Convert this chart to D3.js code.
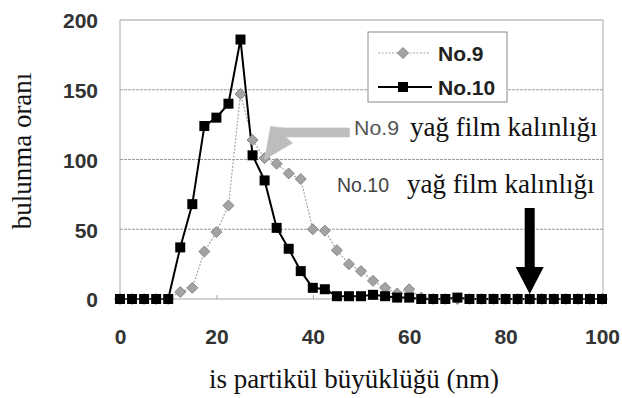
<!DOCTYPE html>
<html>
<head>
<meta charset="utf-8">
<script src="https://cdn.jsdelivr.net/npm/d3@7"></script>
<style>
  html, body { margin: 0; padding: 0; background: #fff; }
  svg { display: block; }
</style>
</head>
<body>
<svg id="chart" width="622" height="398"></svg>
<script>
// Particle size classes (nm), sampled every 2.5 nm
const sizes = d3.range(0, 100.01, 2.5);

// Occurrence rate per size class
const no9 = [0, 0, 0, 0, 0, 5, 8, 34, 48, 67, 147, 114, 101, 97, 90, 86, 50, 49, 35, 25,
             20, 13, 8, 4, 7, 1, 0, 0, 0, 0, 0, 0, 0, 0, 0, 0, 0, 0, 0, 0, 0];
const no10 = [0, 0, 0, 0, 0, 37, 68, 124, 130, 140, 186, 103, 85, 51, 36, 20, 8, 7, 2, 2,
              2, 3, 2, 1, 1, 0, 0, 0, 1, 0, 0, 0, 0, 0, 0, 0, 0, 0, 0, 0, 0];

const seriesNames = ["No.9", "No.10"];
// Oil film thickness (nm) marked for each sample
const filmThickness = [30, 85];
const filmLabel = "yağ film kalınlığı";

const xTicks = [0, 20, 40, 60, 80, 100];
const yTicks = [0, 50, 100, 150, 200];

const xTitle = "is partikül büyüklüğü (nm)";
const yTitle = "bulunma oranı";

const svg = d3.select("#chart");
const plotLeft = 120, plotRight = 602, plotTop = 20, plotBottom = 299;

const x = d3.scaleLinear().domain([0, 100]).range([plotLeft, plotRight]);
const y = d3.scaleLinear().domain([0, 200]).range([plotBottom, plotTop]);

const sans = "'Liberation Sans', Arial, sans-serif";
const serif = "'Liberation Serif', 'Times New Roman', serif";

// Horizontal gridlines
svg.append("g").selectAll("line")
  .data(yTicks.filter(d => d > 0))
  .join("line")
  .attr("x1", plotLeft).attr("x2", plotRight + 1)
  .attr("y1", d => y(d)).attr("y2", d => y(d))
  .attr("stroke", "#9a9a9a").attr("stroke-width", 1)
  .attr("stroke-dasharray", d => d === 200 ? null : "3,1");

// Plot frame: left axis, right border, bottom axis
svg.append("line").attr("x1", plotLeft).attr("x2", plotLeft).attr("y1", plotTop).attr("y2", plotBottom)
  .attr("stroke", "#a8a8a8");
svg.append("line").attr("x1", plotRight + 1).attr("x2", plotRight + 1).attr("y1", plotTop).attr("y2", plotBottom)
  .attr("stroke", "#a8a8a8");
svg.append("line").attr("x1", plotLeft).attr("x2", plotRight + 1).attr("y1", plotBottom).attr("y2", plotBottom)
  .attr("stroke", "#a8a8a8");

// Axes
const xAxis = d3.axisBottom(x).tickValues(xTicks).tickSizeInner(-4).tickSizeOuter(0).tickPadding(30);
const gx = svg.append("g").attr("transform", `translate(0,${plotBottom})`).call(xAxis);
gx.select(".domain").remove();
gx.selectAll(".tick line").attr("stroke", "#a8a8a8");
gx.selectAll("text").attr("font-family", sans).attr("font-weight", "bold")
  .attr("font-size", 21).attr("fill", "#333");

const yAxis = d3.axisLeft(y).tickValues(yTicks).tickSize(0).tickPadding(22);
const gy = svg.append("g").attr("transform", `translate(${plotLeft},0)`).call(yAxis);
gy.select(".domain").remove();
gy.selectAll("text").attr("font-family", sans).attr("font-weight", "bold")
  .attr("font-size", 21).attr("fill", "#333").attr("dy", "0.38em");

// Axis titles
svg.append("text")
  .attr("x", 354).attr("y", 388)
  .attr("text-anchor", "middle")
  .attr("font-family", serif).attr("font-size", 27).attr("fill", "#111")
  .text(xTitle);

svg.append("text")
  .attr("transform", "translate(31,151) rotate(-90)")
  .attr("text-anchor", "middle")
  .attr("font-family", serif).attr("font-size", 27).attr("fill", "#111")
  .text(yTitle);

// Series
const line = d3.line().x((d, i) => x(sizes[i])).y(d => y(d));

svg.append("path").datum(no9)
  .attr("d", line).attr("fill", "none")
  .attr("stroke", "#a6a6a6").attr("stroke-width", 1.2).attr("stroke-dasharray", "2,1.5");

svg.append("path").datum(no10)
  .attr("d", line).attr("fill", "none")
  .attr("stroke", "#000").attr("stroke-width", 2);

const diamond = "M0,-5.5L5.5,0L0,5.5L-5.5,0Z";

svg.append("g").selectAll("path")
  .data(no9)
  .join("path")
  .attr("d", diamond)
  .attr("transform", (d, i) => `translate(${x(sizes[i])},${y(d)})`)
  .attr("fill", "#a3a3a3").attr("stroke", "#868686").attr("stroke-width", 1);

svg.append("g").selectAll("rect")
  .data(no10)
  .join("rect")
  .attr("x", (d, i) => x(sizes[i]) - 5).attr("y", d => y(d) - 5)
  .attr("width", 10).attr("height", 10)
  .attr("fill", "#000");

// Legend
const lg = svg.append("g");
lg.append("rect").attr("x", 368).attr("y", 32).attr("width", 139).attr("height", 70)
  .attr("fill", "#fff").attr("stroke", "#8a8a8a").attr("stroke-width", 1);
const legendY = [53, 87];
lg.append("line").attr("x1", 378).attr("x2", 430).attr("y1", legendY[0]).attr("y2", legendY[0])
  .attr("stroke", "#a6a6a6").attr("stroke-width", 1.2).attr("stroke-dasharray", "2,1.5");
lg.append("path").attr("d", diamond).attr("transform", `translate(403,${legendY[0]})`)
  .attr("fill", "#a3a3a3").attr("stroke", "#868686");
lg.append("line").attr("x1", 378).attr("x2", 432).attr("y1", legendY[1]).attr("y2", legendY[1])
  .attr("stroke", "#000").attr("stroke-width", 2);
lg.append("rect").attr("x", 398).attr("y", legendY[1] - 5).attr("width", 10).attr("height", 10)
  .attr("fill", "#000");
lg.selectAll("text.lab").data(seriesNames).join("text")
  .attr("class", "lab")
  .attr("x", 438).attr("y", (d, i) => legendY[i] + 8)
  .attr("font-family", sans).attr("font-weight", "bold").attr("font-size", 21).attr("fill", "#222")
  .text(d => d);

// Film thickness markers
// No.9: light grey bent arrow pointing at the curve
const tx = x(filmThickness[0]), ty = y(100);
svg.append("path")
  .attr("d", d3.line()([
    [tx + 85, ty - 31.5], [tx + 20, ty - 31.5], [tx + 6, ty - 33], [tx, ty],
    [tx + 28, ty - 16.5], [tx + 21, ty - 22.5], [tx + 85, ty - 22.5]
  ]) + "Z")
  .attr("fill", "#bdbdbd").attr("stroke", "#c8c8c8").attr("stroke-width", 0.8);

// No.10: black arrow down onto the axis
const bx = x(filmThickness[1]);
svg.append("path")
  .attr("d", d3.line()([
    [bx - 5, 208], [bx + 5, 208], [bx + 5, 267], [bx + 14, 267], [bx, 294],
    [bx - 14, 267], [bx - 5, 267]
  ]) + "Z")
  .attr("fill", "#000");

// Annotation labels
const annY = [135, 192];
const annX = [354, 337];
const annSerifX = [410, 407];
seriesNames.forEach((name, i) => {
  svg.append("text").attr("x", annX[i]).attr("y", annY[i])
    .attr("font-family", sans).attr("font-size", 21).attr("fill", i === 0 ? "#555" : "#444")
    .attr("textLength", i === 0 ? 45 : 52).attr("lengthAdjust", "spacingAndGlyphs")
    .text(name);
  svg.append("text").attr("x", annSerifX[i]).attr("y", annY[i] + 1)
    .attr("font-family", serif).attr("font-size", 27).attr("fill", "#111")
    .text(filmLabel);
});
</script>
</body>
</html>
